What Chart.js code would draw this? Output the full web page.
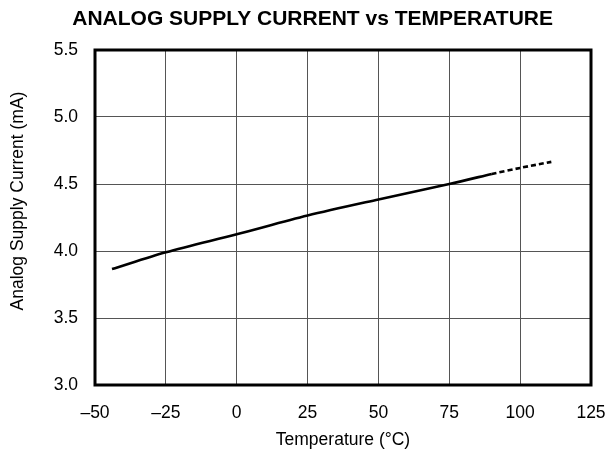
<!DOCTYPE html>
<html lang="en">
<head>
    <meta charset="UTF-8">
    <title>Analog Supply Current vs Temperature</title>
    <script src="https://cdn.jsdelivr.net/npm/chart.js@4.4.0/dist/chart.umd.min.js"></script>
    <style>
        body {
            margin: 0;
            padding: 0;
            background: #fff;
        }
        #chart {
            display: block;
        }
    </style>
</head>
<body>
    <canvas id="chart" width="609" height="451"></canvas>

    <script>
        // values
        const tempSolid = [-44, -25, 0, 25, 50, 75, 90];
        const currentSolid = [3.865, 3.99, 4.125, 4.265, 4.385, 4.5, 4.575];
        const tempDashed = [90, 100, 111];
        const currentDashed = [4.575, 4.62, 4.665];
        const xTicks = [-50, -25, 0, 25, 50, 75, 100, 125];
        const yTicks = [3.0, 3.5, 4.0, 4.5, 5.0, 5.5];

        const toPoints = (xs, ys) => xs.map((x, i) => ({ x: x, y: ys[i] }));
        const fontFamily = "'Liberation Sans', Arial, sans-serif";

        // frame around the plot area, chart title and y axis title
        const framePlugin = {
            id: 'frame',
            afterDraw(chart) {
                const { ctx, chartArea } = chart;
                ctx.save();
                ctx.strokeStyle = '#000';
                ctx.lineWidth = 3;
                ctx.strokeRect(chartArea.left, chartArea.top,
                    chartArea.right - chartArea.left, chartArea.bottom - chartArea.top);

                ctx.fillStyle = '#000';
                ctx.font = 'bold 21px ' + fontFamily;
                ctx.textAlign = 'right';
                ctx.textBaseline = 'middle';
                ctx.fillText('ANALOG SUPPLY CURRENT vs TEMPERATURE', 553, 19);

                ctx.font = '17.5px ' + fontFamily;
                ctx.textAlign = 'center';
                ctx.translate(18, 201);
                ctx.rotate(-Math.PI / 2);
                ctx.fillText('Analog Supply Current (mA)', 0, 0);
                ctx.restore();
            }
        };

        new Chart(document.getElementById('chart'), {
            type: 'scatter',
            data: {
                datasets: [
                    {
                        data: toPoints(tempSolid, currentSolid),
                        showLine: true,
                        borderColor: '#000',
                        borderWidth: 2.6,
                        pointRadius: 0,
                        tension: 0.3
                    },
                    {
                        data: toPoints(tempDashed, currentDashed),
                        showLine: true,
                        borderColor: '#000',
                        borderWidth: 2.6,
                        borderDash: [5, 3],
                        pointRadius: 0,
                        tension: 0.3
                    }
                ]
            },
            options: {
                responsive: false,
                animation: false,
                layout: {
                    padding: { top: 50, right: 18, bottom: 0, left: 0 }
                },
                plugins: {
                    legend: { display: false },
                    tooltip: { enabled: false }
                },
                scales: {
                    x: {
                        type: 'linear',
                        min: -50,
                        max: 125,
                        afterBuildTicks(scale) {
                            scale.ticks = xTicks.map(v => ({ value: v }));
                        },
                        afterFit(scale) {
                            scale.height = 66;
                            scale.paddingLeft = 0;
                            scale.paddingRight = 0;
                        },
                        ticks: {
                            color: '#000',
                            padding: 18,
                            font: { family: fontFamily, size: 17.5 },
                            callback: v => (v < 0 ? '\u2013' + Math.abs(v) : String(v))
                        },
                        grid: {
                            color: '#555',
                            lineWidth: 1,
                            drawTicks: false
                        },
                        border: { display: false },
                        title: {
                            display: true,
                            text: 'Temperature (\u00B0C)',
                            color: '#000',
                            font: { family: fontFamily, size: 17.5 },
                            padding: { top: 0, bottom: 0 }
                        }
                    },
                    y: {
                        min: 3.0,
                        max: 5.5,
                        afterBuildTicks(scale) {
                            scale.ticks = yTicks.map(v => ({ value: v }));
                        },
                        afterFit(scale) {
                            scale.width = 95;
                            scale.paddingTop = 0;
                            scale.paddingBottom = 0;
                        },
                        ticks: {
                            color: '#000',
                            padding: 17,
                            font: { family: fontFamily, size: 17.5 },
                            callback: v => v.toFixed(1)
                        },
                        grid: {
                            color: '#555',
                            lineWidth: 1,
                            drawTicks: false
                        },
                        border: { display: false }
                    }
                }
            },
            plugins: [framePlugin]
        });
    </script>
</body>
</html>
